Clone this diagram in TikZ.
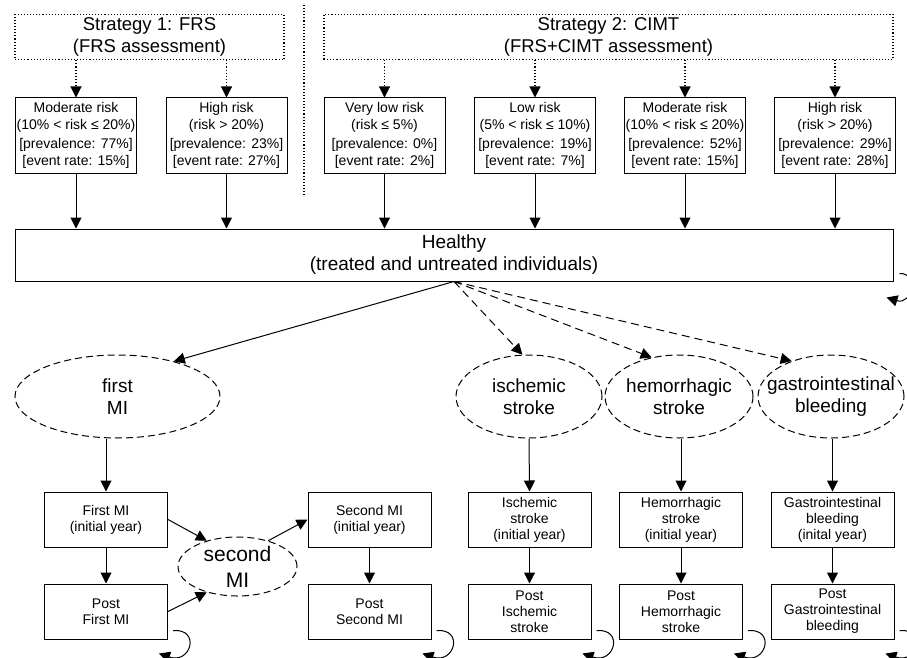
\documentclass[tikz,border=0pt]{standalone}
\usepackage{fontspec}
\setmainfont{Liberation Sans}
\usetikzlibrary{arrows.meta,positioning,shapes.geometric}

\begin{document}
\begin{tikzpicture}[x=1pt, y=-1pt, line width=1pt,
    >={Triangle[length=11pt,width=11pt]},
    strategy/.style={draw, dotted, line width=1.1pt, minimum width=#1, minimum height=40,
        align=center, font=\fontsize{18.5}{22}\selectfont},
    riskbox/.style={draw, minimum width=121, minimum height=75, inner sep=0,
        align=center, font=\fontsize{14}{16.5}\selectfont},
    statebox/.style={draw, minimum width=123, minimum height=55, inner sep=0,
        align=center, font=\fontsize{14}{16}\selectfont},
    eventnode/.style={draw, ellipse, dash pattern=on 7pt off 4pt, minimum width=146,
        minimum height=83, inner xsep=-40pt, inner ysep=-20pt,
        align=center, font=\fontsize{19}{22}\selectfont},
    dashedarrow/.style={->, dash pattern=on 8pt off 5pt}]
    \useasboundingbox (0,0) rectangle (907,658);

    % strategies
    \node (strat1) [strategy=269] at (149.5,37) {Strategy 1: FRS\\(FRS assessment)};
    \node (strat2) [strategy=569] at (608.5,37) {Strategy 2: CIMT\\(FRS+CIMT assessment)};
    \draw[dotted, line width=1.1pt] (304,5) -- (304,195);

    \node (mod1) [riskbox] at (76,135.5) {Moderate risk\\(10\% < risk ≤ 20\%)\\[3pt][prevalence: 77\%]\\{}[event rate: 15\%]};
    \node (high1) [riskbox] at (226.5,135.5) {High risk\\(risk > 20\%)\\[3pt][prevalence: 23\%]\\{}[event rate: 27\%]};
    \node (vlow2) [riskbox] at (384.5,135.5) {Very low risk\\(risk ≤ 5\%)\\[3pt][prevalence: 0\%]\\{}[event rate: 2\%]};
    \node (low2) [riskbox] at (535,135.5) {Low risk\\(5\% < risk ≤ 10\%)\\[3pt][prevalence: 19\%]\\{}[event rate: 7\%]};
    \node (mod2) [riskbox] at (685,135.5) {Moderate risk\\(10\% < risk ≤ 20\%)\\[3pt][prevalence: 52\%]\\{}[event rate: 15\%]};
    \node (high2) [riskbox] at (835,135.5) {High risk\\(risk > 20\%)\\[3pt][prevalence: 29\%]\\{}[event rate: 28\%]};

    \node (healthy) [draw, minimum width=878, minimum height=52, align=center,
        font=\fontsize{19}{22}\selectfont] at (454,255) {Healthy\\(treated and untreated individuals)};

    \foreach \s/\r in {strat1/mod1, strat1/high1, strat2/vlow2, strat2/low2, strat2/mod2, strat2/high2} {
        \draw[->, dotted, line width=1.1pt] (\s.south -| \r) -- (\r.north);
        \draw[->] (\r.south) -- (\r.south |- healthy.north);
    }
    \draw[->] (healthy.south east) ++(6,-8) .. controls +(19,-1) and +(26,8) .. ([shift={(-7,16)}]healthy.south east);

    % events
    \node (firstmi) [eventnode, minimum width=205] at (117.5,396.5) {first\\MI};
    \node (isch) [eventnode] at (529,396.5) {ischemic\\stroke};
    \node (hem) [eventnode, minimum width=148] at (679,396.5) {hemorrhagic\\stroke};
    \node (gas) [eventnode] at (831,396.5) {gastrointestinal\\bleeding};

    \draw[->] (healthy.south) -- (firstmi.32);
    \draw[dashedarrow] (healthy.south) -- (isch.99);
    \draw[dashedarrow] (healthy.south) -- (hem.125);
    \draw[dashedarrow] (healthy.south) -- (gas.138);

    % states
    \node (fmi1) [statebox] at (106,519.5) {First MI\\(initial year)};
    \node (fmi2) [statebox] at (106,611.5) {Post\\First MI};
    \node (secmi) [eventnode, minimum width=119, minimum height=59,
        font=\fontsize{21}{26}\selectfont] at (237.5,566.5) {second\\MI};
    \node (smi1) [statebox] at (369.5,519.5) {Second MI\\(initial year)};
    \node (smi2) [statebox] at (369.5,611.5) {Post\\Second MI};
    \node (isch1) [statebox] at (529.5,519.5) {Ischemic\\stroke\\(initial year)};
    \node (isch2) [statebox] at (529.5,611.5) {Post\\Ischemic\\stroke};
    \node (hem1) [statebox] at (681,519.5) {Hemorrhagic\\stroke\\(initial year)};
    \node (hem2) [statebox] at (681,611.5) {Post\\Hemorrhagic\\stroke};
    \node (gas1) [statebox] at (832.5,519.5) {Gastrointestinal\\bleeding\\(inital year)};
    \node (gas2) [statebox] at (832.5,611.5) {Post\\Gastrointestinal\\bleeding};

    \draw[->] (firstmi.south -| fmi1) -- (fmi1.north);
    \draw[->] (isch.south) -- (isch1.north);
    \draw[->] (hem.south -| hem1) -- (hem1.north);
    \draw[->] (gas.south -| gas1) -- (gas1.north);
    \draw[->] (fmi1.east) -- (secmi.140);
    \draw[->] (fmi2.east) -- (secmi.220);
    \draw[->] (secmi.40) -- (smi1.west);

    \foreach \a/\b in {fmi1/fmi2, smi1/smi2, isch1/isch2, hem1/hem2, gas1/gas2} {
        \draw[->] (\a) -- (\b);
        \draw[->] ([shift={(5,-9)}]\b.south east) .. controls +(28,-2) and +(32,11) .. ([shift={(-9,14)}]\b.south east);
    }
\end{tikzpicture}
\end{document}
